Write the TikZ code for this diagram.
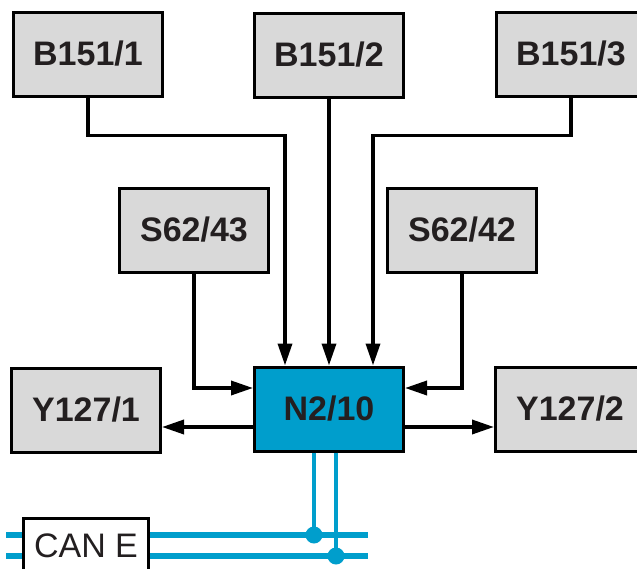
\documentclass[tikz,border=0pt]{standalone}
\usepackage{fontspec}
\setmainfont{Liberation Sans}
\usetikzlibrary{calc,arrows.meta}
\definecolor{boxgray}{RGB}{217,217,217}
\definecolor{ecublue}{RGB}{0,158,204}
\definecolor{inkblack}{RGB}{35,31,32}
\tikzset{
  unit/.style={draw=black,line width=3pt,fill=boxgray,text=inkblack,
               font=\fontsize{34}{36}\selectfont\bfseries,
               minimum width=149pt,minimum height=84pt,inner sep=2pt},
  arr/.style={-{Triangle[length=22pt,width=14pt]},line width=3.5pt,black}
}

\begin{document}
\begin{tikzpicture}[x=1pt,y=-1pt,
  ecu/.style={unit,fill=ecublue},
  canbox/.style={draw=black,line width=3pt,fill=white,text=inkblack,
                 font=\fontsize{34}{36}\selectfont,
                 minimum width=125pt,minimum height=56pt,inner sep=2pt},
  bus/.style={line width=5.5pt,ecublue},
  drop/.style={line width=4.5pt,ecublue}]
  \useasboundingbox (0,0) rectangle (637,568);
  \node[unit] (b1) at (88,54) {B151/1};
  \node[unit] (b2) at (329,55) {B151/2};
  \node[unit] (b3) at (571,54) {B151/3};
  \node[unit] (s43) at (194,230) {S62/43};
  \node[unit] (s42) at (462,230) {S62/42};
  \node[unit] (y1) at (86,410) {Y127/1};
  \node[ecu] (n2) at (329,409) {N2/10};
  \node[unit] (y2) at (570,409) {Y127/2};

  \draw[arr] (b1.south) -- ++(0,38) -| ([xshift=-44pt]n2.north);
  \draw[arr] (b2.south) -- (n2.north);
  \draw[arr] (b3.south) -- ++(0,38) -| ([xshift=44pt]n2.north);
  \draw[arr] (s43.south) |- ([yshift=21pt]n2.west);
  \draw[arr] (s42.south) |- ([yshift=21pt]n2.east);
  \draw[arr] ([yshift=-18pt]n2.west) -- ([yshift=-18pt]n2.west -| y1.east);
  \draw[arr] ([yshift=-18pt]n2.east) -- ([yshift=-18pt]n2.east -| y2.west);

  % CAN E bus
  \coordinate (canh) at (6,535);
  \coordinate (canl) at (6,556);
  \draw[bus] (canh) -- ++(362,0);
  \draw[bus] (canl) -- ++(362,0);
  \node[canbox] (can) at (86,546) {CAN E};
  \draw[drop] ([xshift=-15pt]n2.south) -- ([xshift=-15pt]n2.south |- canh);
  \draw[drop] ([xshift=7pt]n2.south) -- ([xshift=7pt]n2.south |- canl);
  \fill[ecublue] ([xshift=-15pt]n2.south |- canh) circle (8.5);
  \fill[ecublue] ([xshift=7pt]n2.south |- canl) circle (8.5);
\end{tikzpicture}
\end{document}
